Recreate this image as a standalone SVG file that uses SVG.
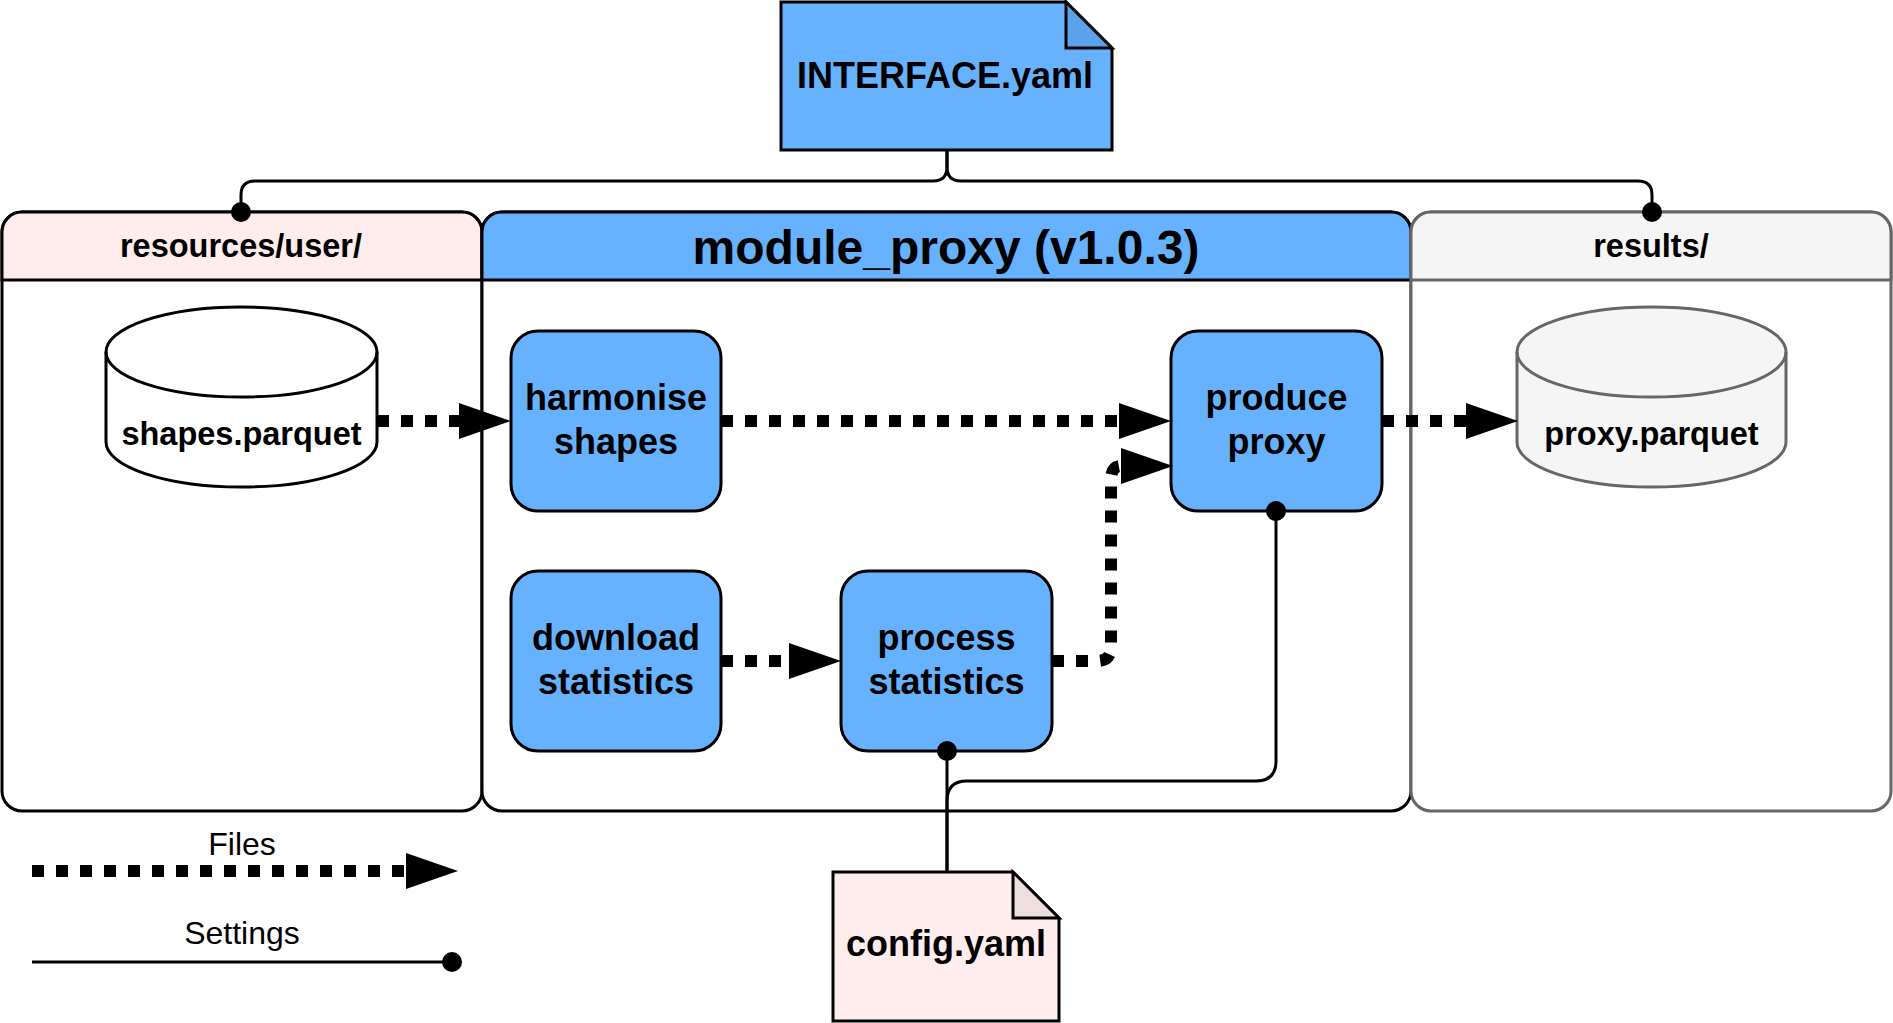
<svg xmlns="http://www.w3.org/2000/svg" width="1893" height="1023" viewBox="0 0 1893 1023">
<defs>
<style>
text{font-family:"Liberation Sans",Arial,sans-serif;fill:#000;text-anchor:middle}
.b{font-weight:bold}
.box{fill:#66B2FF;stroke:#000;stroke-width:3}
.files{fill:none;stroke:#000;stroke-width:12;stroke-dasharray:12 12;marker-end:url(#ah)}
.set{fill:none;stroke:#000;stroke-width:3}
</style>
<marker id="ah" markerUnits="userSpaceOnUse" markerWidth="56" markerHeight="40" viewBox="0 -20 56 40" refX="0" refY="0" orient="auto" overflow="visible">
<path d="M0,-18 L52,0 L0,18 z" fill="#000"/>
</marker>
</defs>
<rect width="1893" height="1023" fill="#fff"/>

<g id="lane-resources">
<rect x="2" y="212" width="480" height="599" rx="20" fill="#fff" stroke="#000" stroke-width="3"/>
<path d="M2,280 V232 A20,20 0 0 1 22,212 H462 A20,20 0 0 1 482,232 V280 Z" fill="#FFECEC" stroke="#000" stroke-width="3"/>
<text class="b" x="241" y="257" font-size="32.5">resources/user/</text>
</g>

<g id="lane-module">
<rect x="482" y="212" width="929" height="599" rx="20" fill="#fff" stroke="#000" stroke-width="3"/>
<path d="M482,280 V232 A20,20 0 0 1 502,212 H1391 A20,20 0 0 1 1411,232 V280 Z" fill="#66B2FF" stroke="#000" stroke-width="3"/>
<text class="b" x="946" y="264" font-size="48">module_proxy (v1.0.3)</text>
</g>

<g id="lane-results">
<rect x="1411" y="212" width="480" height="599" rx="20" fill="#fff" stroke="#666" stroke-width="3"/>
<path d="M1411,280 V232 A20,20 0 0 1 1431,212 H1871 A20,20 0 0 1 1891,232 V280 Z" fill="#F5F5F5" stroke="#666" stroke-width="3"/>
<text class="b" x="1651" y="257" font-size="32.5">results/</text>
</g>

<g id="interface">
<path d="M781,2 H1066 L1112,48 V150 H781 Z" fill="#66B2FF" stroke="#000" stroke-width="3"/>
<path d="M1066,2 V48 H1112 Z" fill="#5AA2EC" stroke="#000" stroke-width="3" stroke-linejoin="miter"/>
<text class="b" x="945" y="88" font-size="36">INTERFACE.yaml</text>
</g>

<g id="shapes-parquet">
<path d="M106,352 A135.5,45 0 0 1 377,352 V442 A135.5,45 0 0 1 106,442 Z" fill="#fff" stroke="#000" stroke-width="3"/>
<path d="M106,352 A135.5,45 0 0 0 377,352" fill="none" stroke="#000" stroke-width="3"/>
<text class="b" x="241.5" y="445" font-size="32.5">shapes.parquet</text>
</g>

<g id="proxy-parquet">
<path d="M1517,352 A134.5,45 0 0 1 1786,352 V442 A134.5,45 0 0 1 1517,442 Z" fill="#F5F5F5" stroke="#666" stroke-width="3"/>
<path d="M1517,352 A134.5,45 0 0 0 1786,352" fill="none" stroke="#666" stroke-width="3"/>
<text class="b" x="1651.5" y="445" font-size="32.5">proxy.parquet</text>
</g>

<g id="harmonise">
<rect class="box" x="511" y="331" width="210" height="180" rx="27"/>
<text class="b" x="616" y="410" font-size="36">harmonise</text>
<text class="b" x="616" y="454" font-size="36">shapes</text>
</g>

<g id="produce">
<rect class="box" x="1171" y="331" width="211" height="180" rx="27"/>
<text class="b" x="1276.5" y="410" font-size="36">produce</text>
<text class="b" x="1276.5" y="454" font-size="36">proxy</text>
</g>

<g id="download">
<rect class="box" x="511" y="571" width="210" height="180" rx="27"/>
<text class="b" x="616" y="650" font-size="36">download</text>
<text class="b" x="616" y="694" font-size="36">statistics</text>
</g>

<g id="process">
<rect class="box" x="841" y="571" width="211" height="180" rx="27"/>
<text class="b" x="946.5" y="650" font-size="36">process</text>
<text class="b" x="946.5" y="694" font-size="36">statistics</text>
</g>

<g id="config">
<path d="M833,872 H1013 L1059,918 V1021 H833 Z" fill="#FFECEC" stroke="#000" stroke-width="3"/>
<path d="M1013,872 V918 H1059 Z" fill="#EEDFDF" stroke="#000" stroke-width="3"/>
<text class="b" x="946" y="956" font-size="36">config.yaml</text>
</g>

<g id="connectors">
<path class="files" d="M377,421 H459"/>
<path class="files" d="M721,421 H1119"/>
<path class="files" d="M1382,421 H1466"/>
<path class="files" d="M721,661 H789"/>
<path class="files" d="M1052,661 H1097 Q1111,661 1111,647 V480 Q1111,466 1121,466"/>
<path class="set" d="M947,150 V167 Q947,181 933,181 H255 Q241,181 241,195 V212"/>
<path class="set" d="M947,150 V167 Q947,181 961,181 H1638 Q1652,181 1652,195 V212"/>
<circle cx="241" cy="212" r="10"/>
<circle cx="1652" cy="212" r="10"/>
<path class="set" d="M947,872 V751"/>
<path class="set" d="M947,872 V801 Q947,781 967,781 H1256 Q1276,781 1276,761 V511"/>
<circle cx="947" cy="751" r="10"/>
<circle cx="1276" cy="511" r="10"/>
</g>

<g id="legend">
<text x="242" y="855" font-size="32">Files</text>
<path class="files" d="M32,871 H406"/>
<text x="242" y="944" font-size="32">Settings</text>
<path class="set" d="M32,962 H452"/>
<circle cx="452" cy="962" r="10"/>
</g>
</svg>
